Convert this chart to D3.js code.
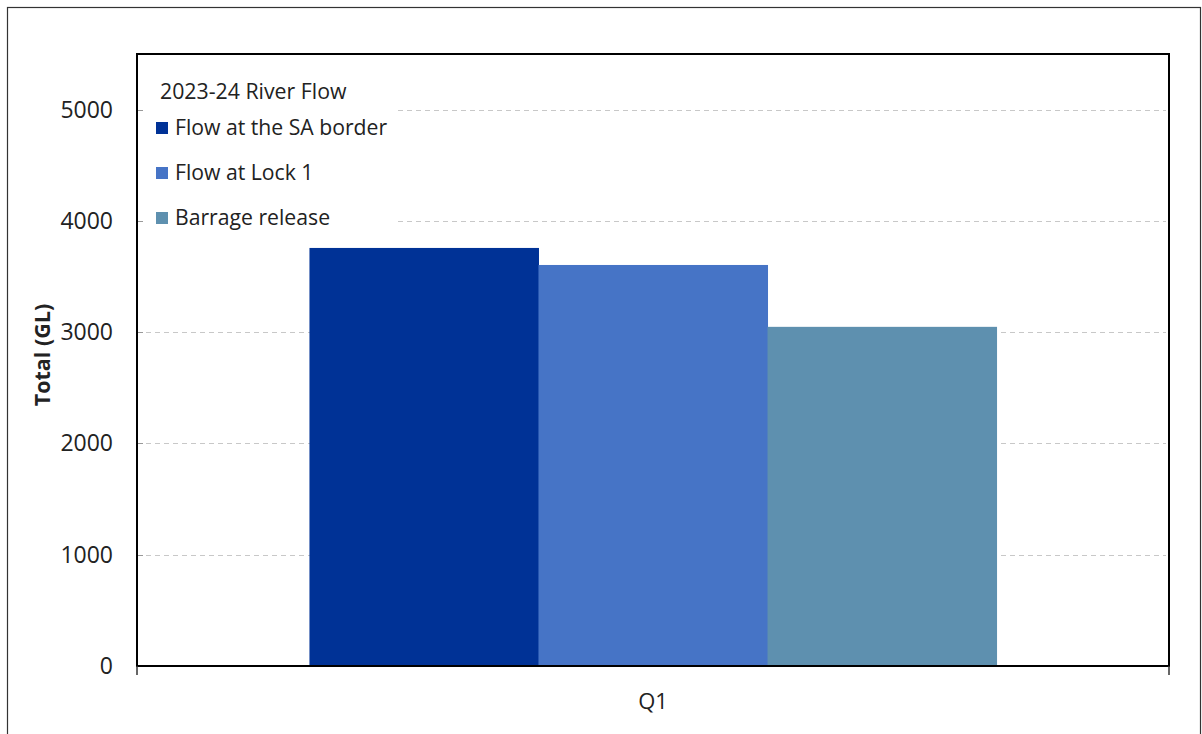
<!DOCTYPE html>
<html>
<head>
<meta charset="utf-8">
<script src="https://cdn.jsdelivr.net/npm/d3@7"></script>
<style>
  body { margin: 0; background: #fff; }
  text { font-family: "Open Sans", sans-serif; fill: #222; }
</style>
</head>
<body>
<script>
// data
var categories = ["Q1"];
var seriesNames = ["Flow at the SA border", "Flow at Lock 1", "Barrage release"];
var seriesColors = ["#003296", "#4674C6", "#5E90AF"];
var values = [[3757, 3604, 3048]];   // one row per category
var yTicks = [0, 1000, 2000, 3000, 4000, 5000];
var legendTitle = "2023-24 River Flow";

function init() {
    var w = 1202, h = 734;
    var margin = {top: 54, right: 33, bottom: 68, left: 137};

    var svg = d3.select("body").append("svg")
        .attr("width", w)
        .attr("height", h);

    // outer frame
    svg.append("rect")
        .attr("x", 7.5).attr("y", 7.5)
        .attr("width", 1193).attr("height", 740)
        .attr("fill", "none")
        .attr("stroke", "#333")
        .attr("stroke-width", 1.2);

    var x0 = d3.scaleBand()
        .domain(categories)
        .range([margin.left, w - margin.right])
        .paddingOuter(0.251)
        .paddingInner(0);

    var x1 = d3.scaleBand()
        .domain(seriesNames)
        .range([0, x0.bandwidth()]);

    var y = d3.scaleLinear()
        .domain([0, 5500])
        .range([h - margin.bottom, margin.top]);

    var plotL = margin.left, plotR = w - margin.right;

    // gridlines
    svg.append("g")
        .selectAll("line")
        .data(yTicks.filter(d => d > 0))
        .enter().append("line")
        .attr("x1", plotL).attr("x2", plotR - 3)
        .attr("y1", d => Math.round(y(d)) + 0.5)
        .attr("y2", d => Math.round(y(d)) + 0.5)
        .attr("stroke", "#c8c8c8")
        .attr("stroke-dasharray", "5,4");

    // bars
    svg.append("g")
        .selectAll("g")
        .data(categories)
        .enter().append("g")
        .attr("transform", d => "translate(" + x0(d) + ",0)")
        .selectAll("rect")
        .data((d, i) => values[i].map((v, j) => ({name: seriesNames[j], value: v, color: seriesColors[j]})))
        .enter().append("rect")
        .attr("x", d => x1(d.name))
        .attr("width", x1.bandwidth() + 0.5)
        .attr("y", d => y(d.value))
        .attr("height", d => y(0) - y(d.value))
        .attr("fill", d => d.color);

    // legend (white box hides gridlines behind it)
    var legend = svg.append("g");
    legend.append("rect")
        .attr("x", plotL + 1).attr("y", 70)
        .attr("width", 260).attr("height", 168)
        .attr("fill", "#fff");
    legend.append("text")
        .attr("x", 160).attr("y", 99)
        .style("font-size", "21.3px")
        .text(legendTitle);
    var items = legend.selectAll("g.item")
        .data(seriesNames)
        .enter().append("g")
        .attr("class", "item")
        .attr("transform", (d, i) => "translate(0," + (128 + i * 45) + ")");
    items.append("rect")
        .attr("x", 156).attr("y", -6)
        .attr("width", 12).attr("height", 12)
        .attr("fill", (d, i) => seriesColors[i]);
    items.append("text")
        .attr("x", 175).attr("y", 7)
        .style("font-size", "21.2px")
        .text(d => d);

    // y axis
    var yAxis = svg.append("g")
        .attr("transform", "translate(" + plotL + ",0)")
        .call(d3.axisLeft(y).tickValues(yTicks).tickFormat(d3.format("d")).tickSize(0).tickPadding(24));
    yAxis.select(".domain").remove();
    yAxis.selectAll("text")
        .style("font-size", "23px")
        .style("font-family", "'Open Sans', sans-serif")
        .attr("fill", "#222");

    // small inner ticks
    svg.append("g")
        .selectAll("line")
        .data(yTicks.filter(d => d > 0))
        .enter().append("line")
        .attr("x1", plotL).attr("x2", plotL + 6)
        .attr("y1", d => Math.round(y(d)) + 0.5)
        .attr("y2", d => Math.round(y(d)) + 0.5)
        .attr("stroke", "#999");

    // plot border
    svg.append("rect")
        .attr("x", plotL).attr("y", margin.top)
        .attr("width", plotR - plotL).attr("height", y(0) - margin.top)
        .attr("fill", "none")
        .attr("stroke", "#000")
        .attr("stroke-width", 2);

    // x axis ticks at edges and label
    svg.append("g")
        .selectAll("line")
        .data([plotL, plotR])
        .enter().append("line")
        .attr("x1", d => d).attr("x2", d => d)
        .attr("y1", y(0)).attr("y2", y(0) + 9)
        .attr("stroke", "#333")
        .attr("stroke-width", 1.5);

    svg.append("g")
        .selectAll("text")
        .data(categories)
        .enter().append("text")
        .attr("x", d => x0(d) + x0.bandwidth() / 2)
        .attr("y", 709)
        .attr("text-anchor", "middle")
        .style("font-size", "22px")
        .text(d => d);

    // y title
    svg.append("text")
        .attr("transform", "translate(50,355) rotate(-90)")
        .attr("text-anchor", "middle")
        .style("font-size", "21.5px")
        .style("font-weight", "bold")
        .text("Total (GL)");
}

window.onload = init;
</script>
</body>
</html>
